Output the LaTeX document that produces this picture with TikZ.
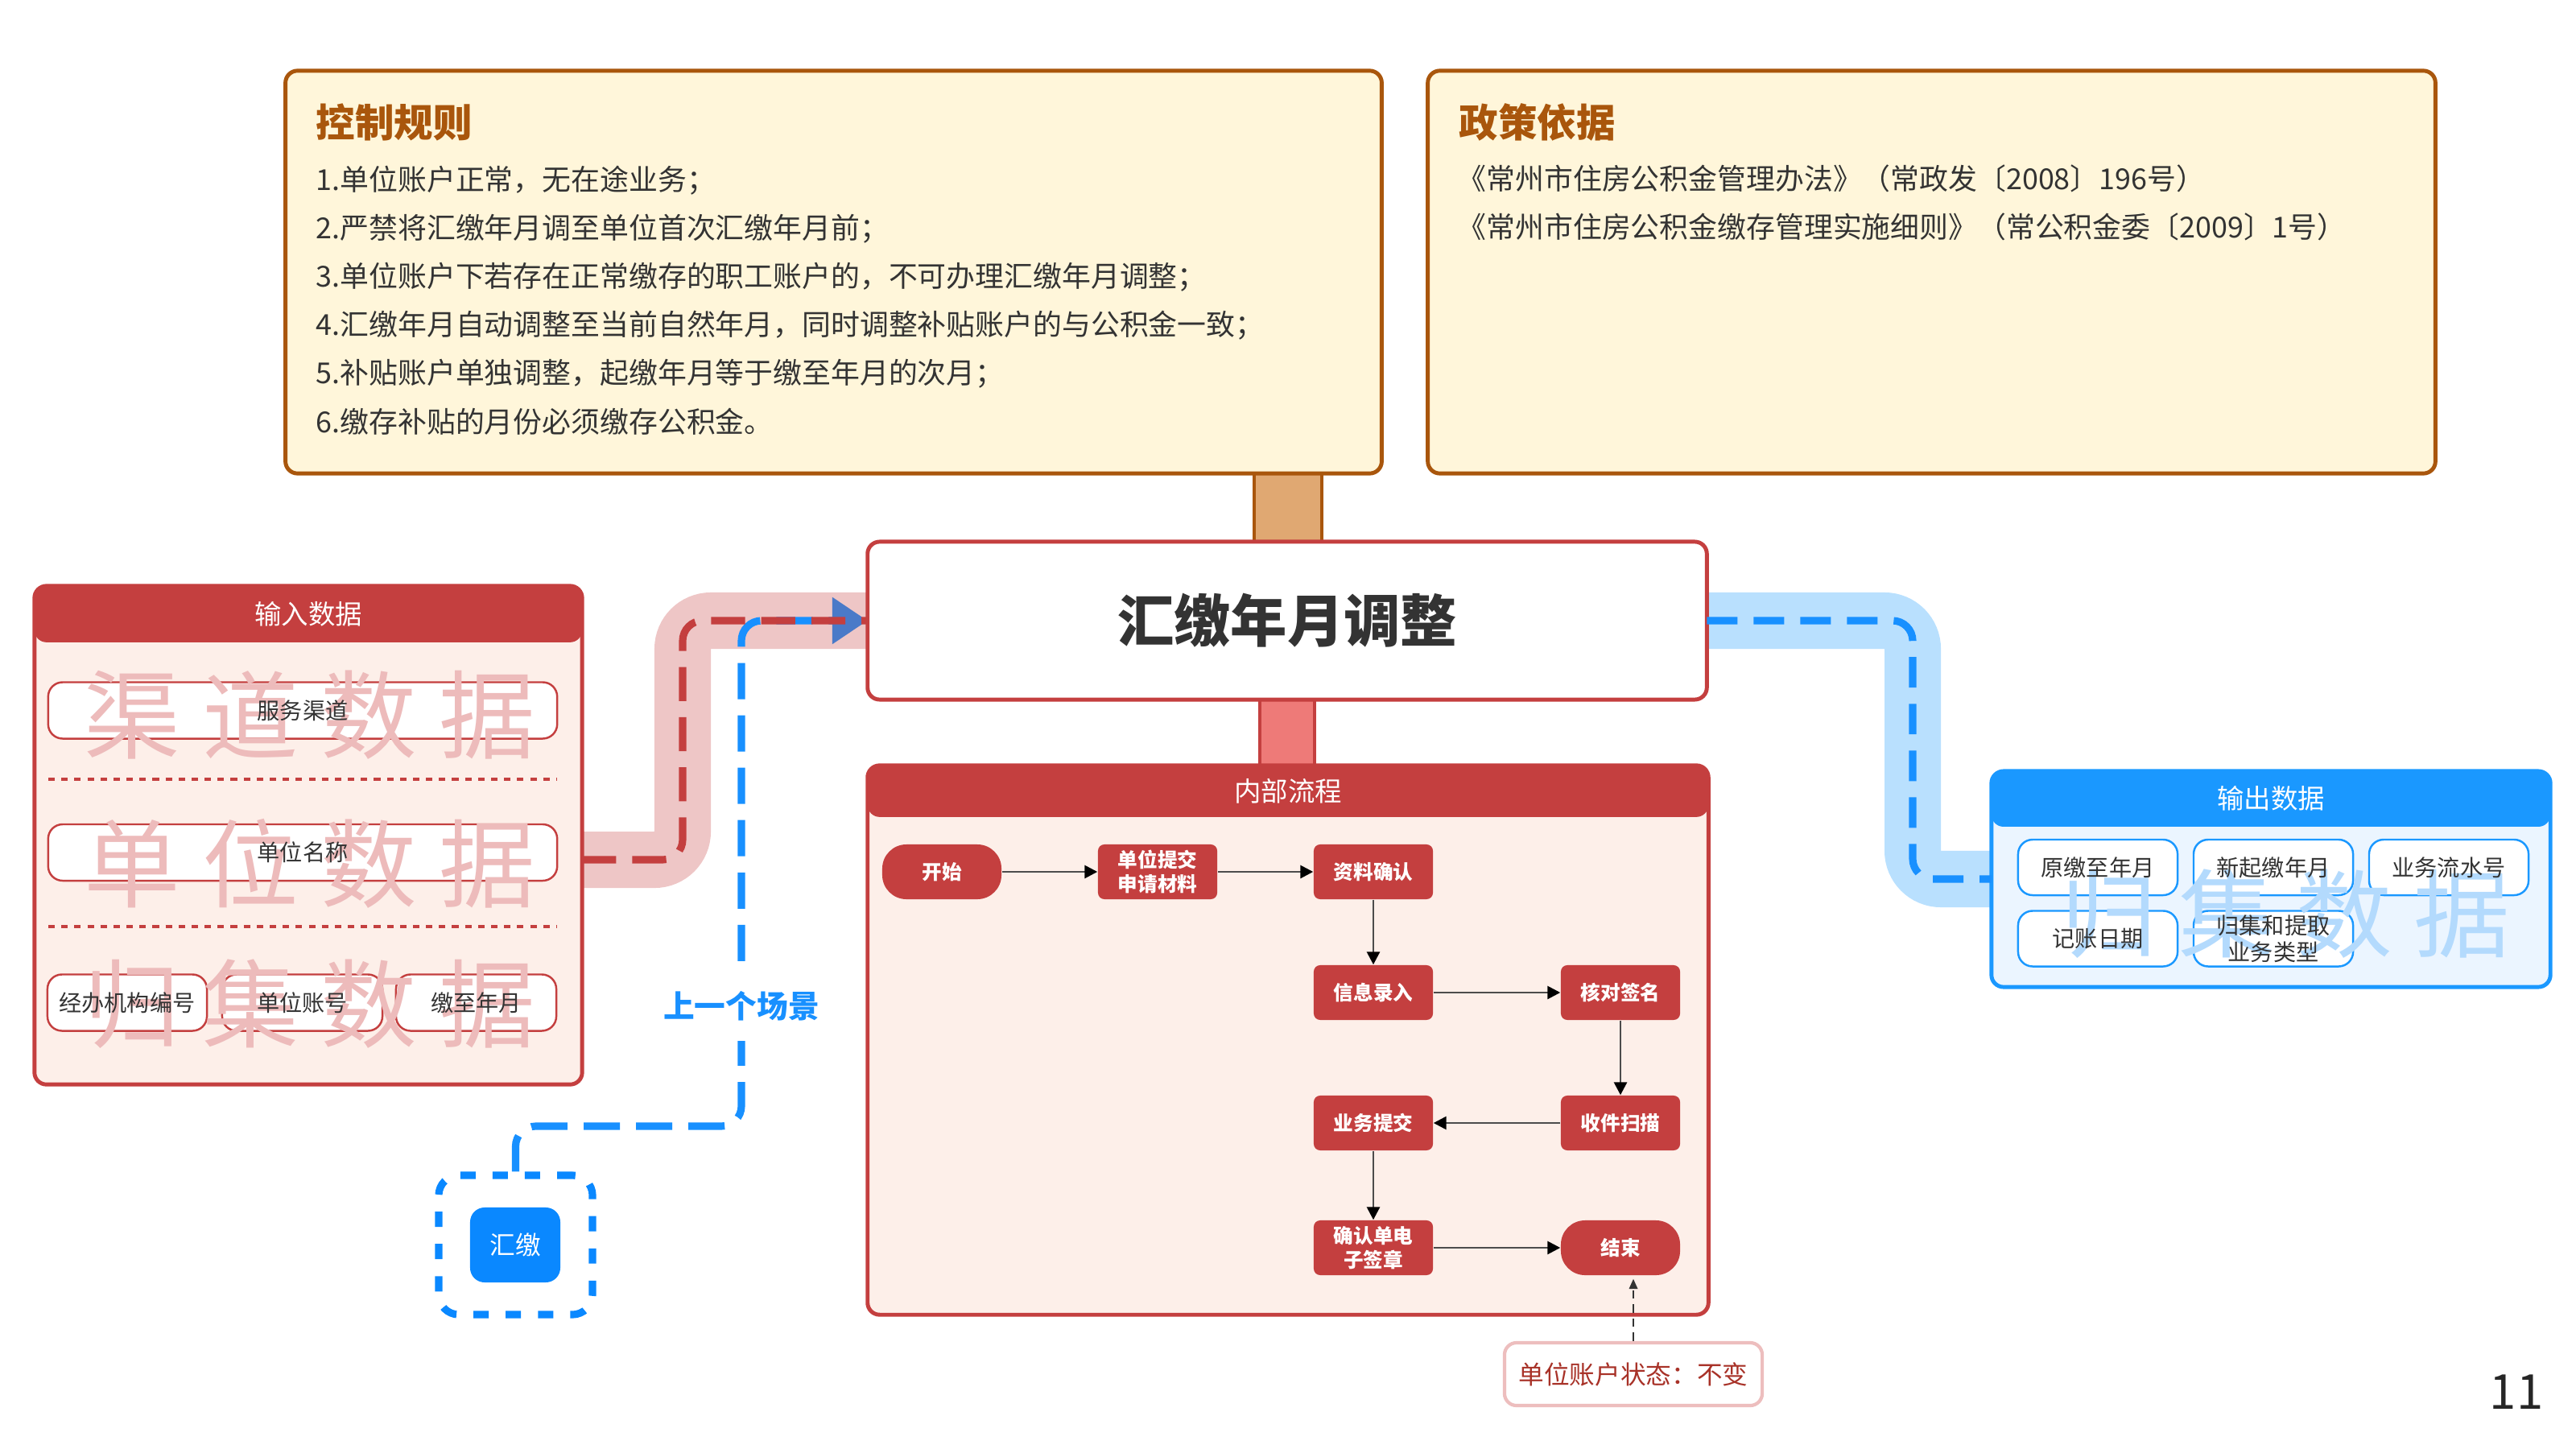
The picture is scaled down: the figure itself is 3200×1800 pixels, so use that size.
\documentclass[tikz,border=0pt]{standalone}
\usepackage{fontspec}
\setmainfont{Noto Sans CJK SC}
\usetikzlibrary{arrows.meta,backgrounds}
\definecolor{redm}{HTML}{C43F3F}
\definecolor{pinkbody}{HTML}{FDEFE9}
\definecolor{redpipe}{HTML}{EEC6C6}
\definecolor{brownc}{HTML}{A9560C}
\definecolor{creamc}{HTML}{FFF6DA}
\definecolor{tanc}{HTML}{E0A872}
\definecolor{redconn}{HTML}{EE7A78}
\definecolor{bluem}{HTML}{1A98FF}
\definecolor{bluebody}{HTML}{EBF5FF}
\definecolor{bluepipe}{HTML}{B9E0FE}
\definecolor{bluedash}{HTML}{1890FF}
\definecolor{bluebtn}{HTML}{0A88FF}
\definecolor{arrowblue}{HTML}{4A7AC8}
\definecolor{txtc}{HTML}{333333}
\definecolor{wmred}{HTML}{EDBBBB}
\definecolor{wmblue}{HTML}{B3DAFD}
\definecolor{statec}{HTML}{A83228}
\definecolor{stateb}{HTML}{EDBEBE}
\tikzset{
 bigbox/.style={draw, rounded corners=0.15cm, line width=1.4pt, inner sep=0pt, outer sep=0pt},
 hdr/.style 2 args={path picture={\fill[#1] (path picture bounding box.north west) rectangle ([yshift=-#2]path picture bounding box.north east);}},
 ttl/.style={font=\fontsize{13.8pt}{16pt}\selectfont\bfseries, text=brownc, anchor=west, inner sep=0pt},
 ruletxt/.style={font=\fontsize{10.2pt}{12pt}\selectfont, text=txtc, anchor=west, inner sep=0pt},
 hdrtxt/.style={font=\fontsize{9.5pt}{11pt}\selectfont, text=white, inner sep=0pt},
 databox/.style={draw=redm, fill=white, line width=0.7pt, rounded corners=0.18cm, inner sep=0pt, minimum height=0.70cm},
 obox/.style={draw=bluem, fill=white, line width=0.7pt, rounded corners=0.18cm, inner sep=0pt, minimum width=1.98cm, minimum height=0.69cm},
 lbl/.style={font=\fontsize{8pt}{9.5pt}\selectfont, text=txtc, align=center, inner sep=0pt},
 wmr/.style={font=\fontsize{34pt}{34pt}\selectfont, text=wmred, inner sep=0pt},
 wmb/.style={font=\fontsize{34pt}{34pt}\selectfont, text=wmblue, inner sep=0pt},
 flow/.style={fill=redm, rounded corners=0.08cm, minimum width=1.48cm, minimum height=0.68cm, inner sep=0pt, text=white, font=\fontsize{7pt}{8.5pt}\selectfont\bfseries, align=center},
 term/.style={flow, rounded corners=0.3cm},
 flowarr/.style={draw=black!70, line width=0.8pt, -{Triangle[length=4.5pt,width=4.5pt,color=black]}},
 pipe/.style={line width=0.70cm, rounded corners=0.35cm},
 reddash/.style={draw=redm, line width=2.6pt, dash pattern=on 12pt off 5.7pt, rounded corners=0.25cm},
 bluedsh/.style={draw=bluedash, line width=2.6pt, dash pattern=on 12.8pt off 5.7pt, rounded corners=0.25cm},
 sepline/.style={draw=redm, line width=1.1pt, dash pattern=on 2.3pt off 2.3pt},
}
\begin{document}
\begin{tikzpicture}[x=0.01cm,y=-0.01cm]
\useasboundingbox (0,0) rectangle (3200,1800);

% small connectors behind the boxes
\node[draw=brownc, fill=tanc, line width=1.2pt, minimum width=0.84cm, minimum height=0.86cm, inner sep=0pt] (tanconn) at (1600,630.5) {};
\node[draw=redm, fill=redconn, line width=1.2pt, minimum width=0.68cm, minimum height=0.84cm, inner sep=0pt] (redconn) at (1599,910) {};

% big boxes
\node[bigbox, draw=brownc, fill=creamc, minimum width=13.61cm, minimum height=5.0cm] (ctrl) at (1035.5,338) {};
\node[bigbox, draw=brownc, fill=creamc, minimum width=12.51cm, minimum height=5.0cm] (policy) at (2399.5,338) {};
\node[bigbox, draw=redm, fill=white, minimum width=10.42cm, minimum height=1.96cm, font=\fontsize{20pt}{24pt}\selectfont\bfseries, text=txtc] (main) at (1599,771) {汇缴年月调整};
\node[bigbox, draw=redm, fill=pinkbody, hdr={redm}{0.64cm}, minimum width=10.44cm, minimum height=6.82cm] (proc) at (1600,1292) {};
\node[bigbox, draw=redm, fill=pinkbody, hdr={redm}{0.70cm}, minimum width=6.80cm, minimum height=6.19cm] (inbox) at (383,1037.5) {};
\node[bigbox, draw=bluem, fill=bluebody, hdr={bluem}{0.69cm}, minimum width=6.94cm, minimum height=2.68cm] (outbox) at (2821,1092) {};

% control rules
\node[ttl] (ctrlt) at (392,152) {控制规则};
\node[ruletxt] (r1) at (392,224) {1.单位账户正常，无在途业务；};
\node[ruletxt] (r2) at (392,284) {2.严禁将汇缴年月调至单位首次汇缴年月前；};
\node[ruletxt] (r3) at (392,344) {3.单位账户下若存在正常缴存的职工账户的，不可办理汇缴年月调整；};
\node[ruletxt] (r4) at (392,404) {4.汇缴年月自动调整至当前自然年月，同时调整补贴账户的与公积金一致；};
\node[ruletxt] (r5) at (392,464) {5.补贴账户单独调整，起缴年月等于缴至年月的次月；};
\node[ruletxt] (r6) at (392,524) {6.缴存补贴的月份必须缴存公积金。};

% policy
\node[ttl] (polt) at (1812,152) {政策依据};
\node[ruletxt] (p1) at (1810,222) {《常州市住房公积金管理办法》（常政发〔2008〕196号）};
\node[ruletxt] (p2) at (1810,282) {《常州市住房公积金缴存管理实施细则》（常公积金委〔2009〕1号）};

% headers
\node[hdrtxt] (inboxt) at (383,763) {输入数据};
\node[hdrtxt] (proct) at (1600,983) {内部流程};
\node[hdrtxt] (outboxt) at (2821,992) {输出数据};

% input data
\node[databox, minimum width=6.32cm] (ib1) at (376,882.5) {};
\node[databox, minimum width=6.32cm] (ib2) at (376,1059) {};
\node[databox, minimum width=1.98cm] (ib3) at (158,1245.5) {};
\node[databox, minimum width=1.99cm] (ib4) at (375.5,1245.5) {};
\node[databox, minimum width=1.99cm] (ib5) at (591.5,1245.5) {};
\coordinate (s1a) at (60,968);
\coordinate (s1b) at (692,968);
\coordinate (s2a) at (60,1151);
\coordinate (s2b) at (692,1151);
\draw[sepline] (s1a) -- (s1b);
\draw[sepline] (s2a) -- (s2b);
\foreach \c [count=\i] in {渠,道,数,据} \node[wmr] (wq\i) at ({164+147*(\i-1)},888) {\c};
\foreach \c [count=\i] in {单,位,数,据} \node[wmr] (wd\i) at ({164+147*(\i-1)},1073) {\c};
\foreach \c [count=\i] in {归,集,数,据} \node[wmr] (wg\i) at ({164+147*(\i-1)},1247) {\c};
\node[lbl] (ib1t) at (ib1) {服务渠道};
\node[lbl] (ib2t) at (ib2) {单位名称};
\node[lbl] (ib3t) at (ib3) {经办机构编号};
\node[lbl] (ib4t) at (ib4) {单位账号};
\node[lbl] (ib5t) at (ib5) {缴至年月};

% output data
\node[obox] (ob1) at (2606,1077.5) {};
\node[obox] (ob2) at (2824,1077.5) {};
\node[obox] (ob3) at (3042,1077.5) {};
\node[obox] (ob4) at (2606,1166) {};
\node[obox] (ob5) at (2824,1166) {};
\foreach \c [count=\i] in {归,集,数,据} \node[wmb] (wo\i) at ({2620+146*(\i-1)},1135) {\c};
\node[lbl] (ob1t) at (ob1) {原缴至年月};
\node[lbl] (ob2t) at (ob2) {新起缴年月};
\node[lbl] (ob3t) at (ob3) {业务流水号};
\node[lbl] (ob4t) at (ob4) {记账日期};
\node[lbl] (ob5t) at (ob5) {归集和提取\\业务类型};

% flow
\node[term] (fstart) at (1170,1083) {开始};
\node[flow] (fsub) at (1438,1083) {单位提交\\申请材料};
\node[flow] (fconf) at (1706,1083) {资料确认};
\node[flow] (fentry) at (1706,1233) {信息录入};
\node[flow] (fsign) at (2013,1233) {核对签名};
\node[flow] (fscan) at (2013,1395) {收件扫描};
\node[flow] (fbsub) at (1706,1395) {业务提交};
\node[flow] (fesig) at (1706,1550) {确认单电\\子签章};
\node[term] (fend) at (2013,1550) {结束};
\draw[flowarr] (fstart) -- (fsub);
\draw[flowarr] (fsub) -- (fconf);
\draw[flowarr] (fconf) -- (fentry);
\draw[flowarr] (fentry) -- (fsign);
\draw[flowarr] (fsign) -- (fscan);
\draw[flowarr] (fscan) -- (fbsub);
\draw[flowarr] (fbsub) -- (fesig);
\draw[flowarr] (fesig) -- (fend);

% state
\node[draw=stateb, fill=white, line width=1.2pt, rounded corners=0.15cm, minimum width=3.2cm, minimum height=0.78cm, inner sep=0pt, text=statec, font=\fontsize{9pt}{11pt}\selectfont] (state) at (2029,1707) {单位账户状态：不变};
\draw[black!80, line width=0.5pt, dash pattern=on 3pt off 2pt, -{Triangle[length=3.5pt,width=3pt]}] (state.north) -- ([yshift=-0.04cm]state.north |- fend.south);

% 汇缴 box
\node[draw=bluebtn, line width=2.6pt, dash pattern=on 5.4pt off 6pt, rounded corners=0.25cm, minimum width=1.91cm, minimum height=1.73cm, inner sep=0pt] (hjbox) at (640.5,1546.5) {};
\node[fill=bluebtn, rounded corners=0.18cm, minimum width=1.12cm, minimum height=0.93cm, inner sep=0pt, text=white, font=\fontsize{9pt}{11pt}\selectfont] (hj) at (640,1546.5) {汇缴};

% pipes
\coordinate (rp0) at ([yshift=-0.305cm]inbox.east);
\coordinate (rp2) at (848,771);
\coordinate (lp2) at (921,1399);
\coordinate (bp2) at (2376,1092);
\begin{scope}[on background layer]
\draw[pipe, draw=redpipe] (rp0) -| (rp2) -- (main.west);
\draw[pipe, draw=bluepipe] (main.east) -| (bp2) -- (outbox.west);
\end{scope}
\draw[bluedsh, -{Triangle[length=12.5pt,width=16pt,color=arrowblue]}] (hjbox.north) |- (lp2) |- (main.west);
\draw[reddash] (rp0) -| (rp2) -- (main.west);
\draw[bluedsh, dash pattern=on 10.8pt off 5.7pt] (main.east) -| (bp2) -- (outbox.west);
\node[fill=white, inner xsep=2pt, inner ysep=7pt, text=bluedash, font=\fontsize{11pt}{13pt}\selectfont\bfseries] (prev) at (921,1250) {上一个场景};

% page number
\node[font=\fontsize{17pt}{20pt}\selectfont, text=black!85, inner sep=0pt] (pgno) at (3126,1729) {11};
\end{tikzpicture}
\end{document}
